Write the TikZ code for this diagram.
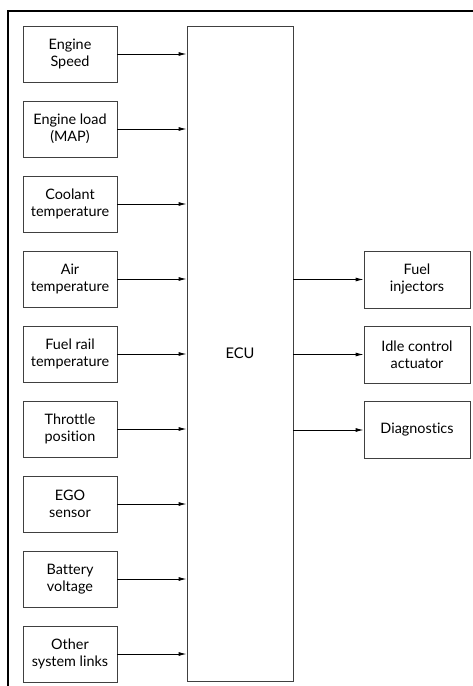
\documentclass[tikz,border=0pt]{standalone}
\usepackage{fontspec}
\setmainfont{Lato}[Ligatures=NoCommon]
\usetikzlibrary{arrows.meta,positioning}
\begin{document}
\begin{tikzpicture}[x=0.75pt,y=-0.75pt,
    inbox/.style={draw=black!75, line width=0.65pt, minimum width=70.5pt, minimum height=42pt,
        align=center, inner sep=1pt, font=\fontsize{10.8}{12.75}\selectfont},
    outbox/.style={inbox, minimum width=79.5pt, minimum height=42.75pt},
    ecubox/.style={draw=black!75, line width=0.65pt, minimum width=79.5pt, minimum height=491.25pt,
        inner sep=0pt, font=\fontsize{11}{13}\selectfont},
    sig/.style={-{Latex[length=6pt,width=3pt]}, line width=0.65pt}]
    \useasboundingbox (0,0) rectangle (473,686);

    % outer frame
    \draw[line width=1.6pt] (8,686) -- (8,11) -- (473,11);

    \node[ecubox] (ecu) at (240,353.5) {ECU};

    % sensor inputs
    \foreach \name/\txt [count=\i] in {speed/{Engine\\Speed}, load/{Engine load\\(MAP)},
        coolant/{Coolant\\temperature}, air/{Air\\temperature}, rail/{Fuel rail\\temperature},
        throttle/{Throttle\\position}, ego/{EGO\\sensor}, battery/{Battery\\voltage},
        other/{Other\\system links}}
        \node[inbox] (\name) at (70,{54+75*(\i-1)}) {\txt};

    \foreach \name in {speed,load,coolant,air,rail,throttle,ego,battery,other}
        \draw[sig] (\name.east) -- (\name.east -| ecu.west);

    % actuator outputs
    \node[outbox] (inj) at (417,279.5) {Fuel\\injectors};
    \node[outbox] (idle) at (417,354.5) {Idle control\\actuator};
    \node[outbox] (diag) at (417,430) {Diagnostics};

    \foreach \name in {inj,idle,diag}
        \draw[sig] (\name.west -| ecu.east) -- (\name.west);
\end{tikzpicture}
\end{document}
